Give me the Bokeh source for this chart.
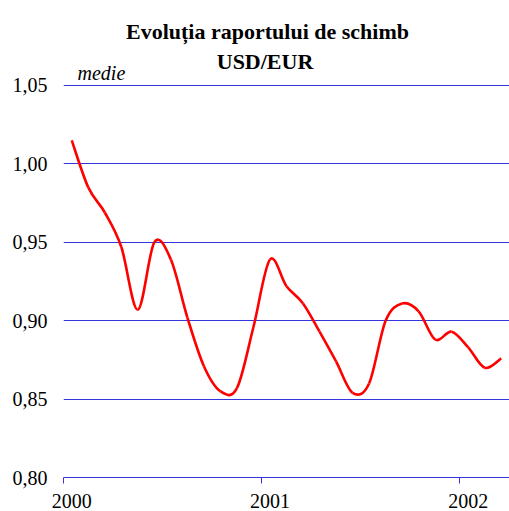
import numpy as np
from bokeh.plotting import figure
from bokeh.models import FixedTicker, Range1d, Label
from bokeh.embed import file_html
from bokeh.resources import INLINE

# ---- data (monthly averages, Jan 2000 .. Mar 2002) ----
month_index = list(range(27))
usd_per_eur = [1.015, 0.985, 0.969, 0.947, 0.907, 0.950, 0.939, 0.902, 0.871,
               0.855, 0.857, 0.896, 0.939, 0.922, 0.911, 0.893, 0.874, 0.854,
               0.860, 0.900, 0.911, 0.906, 0.888, 0.893, 0.883, 0.870, 0.876]
year_labels = ["2000", "2001", "2002"]
year_label_pos = [0, 12, 24]
year_bounds = [-0.5, 11.5, 23.5]
y_ticks = [0.80, 0.85, 0.90, 0.95, 1.00, 1.05]
y_tick_labels = ["0,80", "0,85", "0,90", "0,95", "1,00", "1,05"]

BLUE = "#3535e0"
SERIF = "Liberation Serif"

# frame spans the whole canvas height above the x axis (invisible outline),
# so that the title texts can sit inside it
p = figure(width=509, height=511, output_backend="svg", toolbar_location=None,
           x_range=Range1d(-0.5, 26.5), y_range=Range1d(0.80, 1.1042),
           min_border_left=63, min_border_right=0, min_border_top=0, min_border_bottom=34,
           outline_line_color=None, background_fill_color="white", border_fill_color="white")

# smoothed line: cubic Bezier segments with control points from neighbours
x = np.array(month_index, dtype=float)
y = np.array(usd_per_eur, dtype=float)
n = len(x)
xp = np.concatenate([[x[0]], x, [x[-1]]])
yp = np.concatenate([[y[0]], y, [y[-1]]])
x0, y0 = x[:-1], y[:-1]
x1, y1 = x[1:], y[1:]
cx0 = x0 + (xp[2:n+1] - xp[0:n-1]) / 6.0
cy0 = y0 + (yp[2:n+1] - yp[0:n-1]) / 6.0
cx1 = x1 - (xp[3:n+2] - xp[1:n]) / 6.0
cy1 = y1 - (yp[3:n+2] - yp[1:n]) / 6.0
p.bezier(x0=x0, y0=y0, x1=x1, y1=y1, cx0=cx0, cy0=cy0, cx1=cx1, cy1=cy1,
         line_color="#ff0000", line_width=2.6)

# axes
xa = p.xaxis[0]
xa.ticker = FixedTicker(ticks=year_label_pos, minor_ticks=year_bounds)
xa.major_label_overrides = dict(zip(year_label_pos, year_labels))
xa.axis_line_color = BLUE
xa.major_tick_line_color = None
xa.major_tick_out = 6
xa.major_tick_in = 0
xa.minor_tick_line_color = BLUE
xa.minor_tick_out = 6
xa.minor_tick_in = 0
xa.major_label_standoff = 10
xa.major_label_text_font = SERIF
xa.major_label_text_font_size = "20px"
xa.major_label_text_color = "black"

ya = p.yaxis[0]
ya.ticker = FixedTicker(ticks=y_ticks)
ya.major_label_overrides = dict(zip(y_ticks, y_tick_labels))
ya.axis_line_color = None
ya.major_tick_line_color = None
ya.minor_tick_line_color = None
ya.major_tick_out = 0
ya.major_tick_in = 0
ya.major_label_standoff = 16
ya.major_label_text_font = SERIF
ya.major_label_text_font_size = "20px"
ya.major_label_text_color = "black"

p.xgrid.visible = False
p.ygrid.ticker = FixedTicker(ticks=y_ticks)
p.ygrid.grid_line_color = BLUE
p.ygrid.grid_line_width = 1

# titles / unit note
p.add_layout(Label(x=11.85, y=1.0844, text="Evoluția raportului de schimb",
                   text_align="center", text_baseline="alphabetic", text_color="black",
                   text_font=SERIF, text_font_style="bold", text_font_size="22px"))
p.add_layout(Label(x=11.7, y=1.0653, text="USD/EUR",
                   text_align="center", text_baseline="alphabetic", text_color="black",
                   text_font=SERIF, text_font_style="bold", text_font_size="22px"))
p.add_layout(Label(x=0.35, y=1.0578, text="medie",
                   text_align="left", text_baseline="alphabetic", text_color="black",
                   text_font=SERIF, text_font_style="italic", text_font_size="20px"))

open("out.html", "w").write(file_html(p, INLINE))
